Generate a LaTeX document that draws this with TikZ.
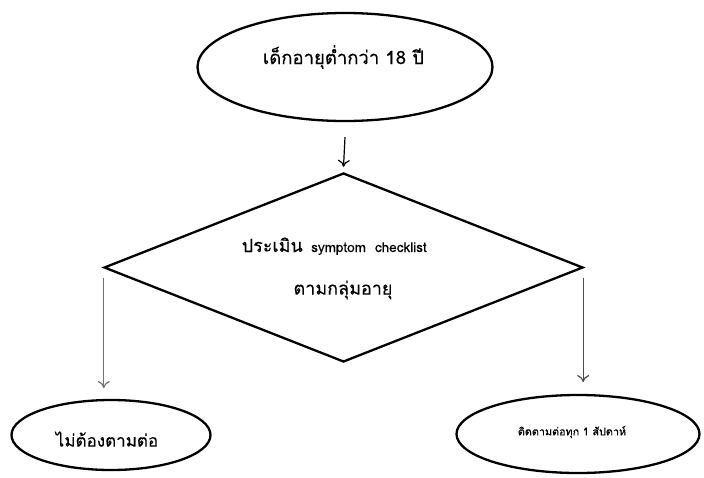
\documentclass[tikz,border=0pt]{standalone}
\usepackage{fontspec}
\newfontfamily\thaifont[Script=Thai,FakeBold=0.3]{Loma}
\usetikzlibrary{shapes.geometric,arrows.meta}
\begin{document}
\begin{tikzpicture}[x=1pt,y=-1pt,
  shapeline/.style={draw=black,line width=2.3pt},
  ovalbox/.style={shapeline,ellipse,inner sep=0pt},
  txt/.style={inner sep=0pt,font=\thaifont},
  arr/.style={-{To[length=7pt,width=12pt]},line width=1.2pt}]
\useasboundingbox (0,0) rectangle (704,477);
% shapes
\node[ovalbox,minimum width=295pt,minimum height=108pt] (top) at (345,67) {};
\node[shapeline,diamond,inner sep=0pt,minimum width=479pt,minimum height=189pt] (dia) at (343.5,267.5) {};
\node[ovalbox,minimum width=199pt,minimum height=70pt] (left) at (111,435) {};
\node[ovalbox,minimum width=243pt,minimum height=78pt] (right) at (578,434) {};
% texts
\node[txt,font=\thaifont\fontsize{18.5}{22}\selectfont] (ttop) at (343.5,57) {เด็กอายุต่ำกว่า 18 ปี};
\node[txt,font=\thaifont\fontsize{18}{22}\selectfont,anchor=base east] (tdia1a) at (303,252) {ประเมิน};
\node[txt,font=\thaifont\fontsize{13.5}{16}\selectfont,anchor=base west] (tdia1b) at (311,252) {symptom\hspace{9pt}checklist};
\node[txt,font=\thaifont\fontsize{18}{22}\selectfont] (tdia2) at (343,290) {ตามกลุ่มอายุ};
\node[txt,font=\thaifont\fontsize{17}{20}\selectfont] (tleft) at (107,439) {ไม่ต้องตามต่อ};
\node[txt,font=\thaifont\fontsize{10.8}{13}\selectfont] (tright) at (572,432) {ติดตามต่อทุก 1 สัปดาห์};
% connectors
\coordinate (a1s) at ([yshift=-15pt]top.south);
\coordinate (a1e) at ([yshift=5pt]dia.north);
\draw[arr] (a1s) -- (a1e);
\coordinate (a2s) at ([xshift=1pt,yshift=-10pt]dia.west);
\coordinate (a2e) at (a2s |- 0,388);
\draw[arr,draw=black!55] (a2s) -- (a2e);
\coordinate (a3s) at ([xshift=-1pt,yshift=-10pt]dia.east);
\coordinate (a3e) at (a3s |- 0,382);
\draw[arr,draw=black!70] (a3s) -- (a3e);
\end{tikzpicture}
\end{document}
